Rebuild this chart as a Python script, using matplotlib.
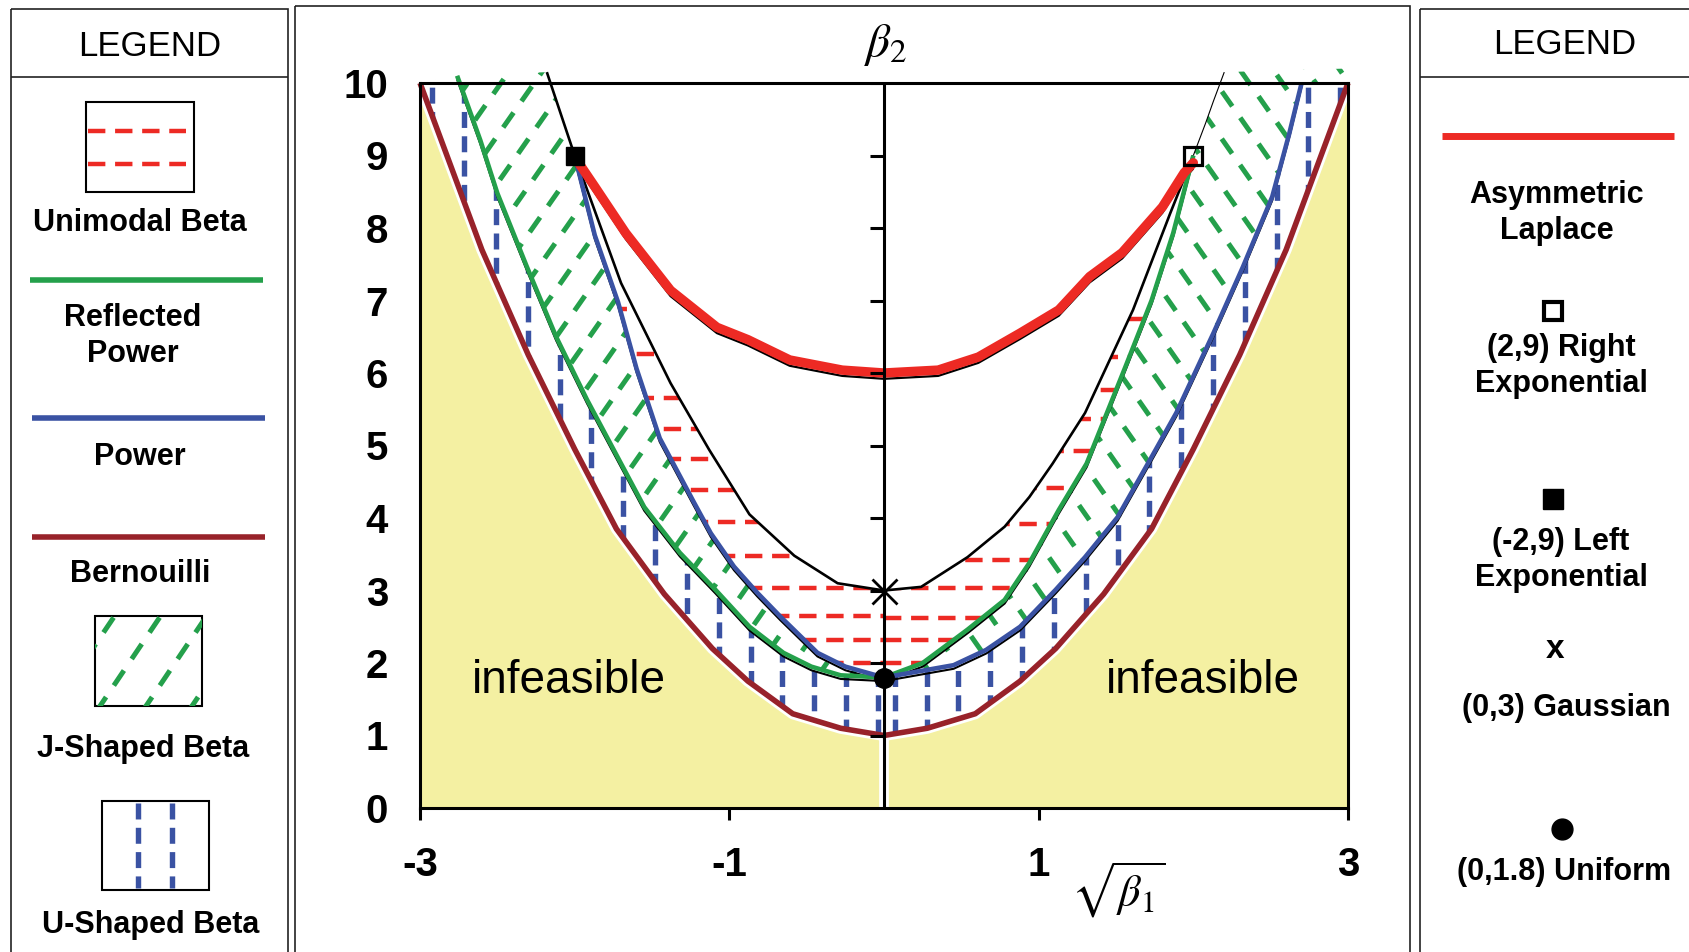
import numpy as np
import matplotlib
matplotlib.use("Agg")
import matplotlib.pyplot as plt
from matplotlib.patches import Polygon, Rectangle
from matplotlib.collections import LineCollection

plt.rcParams["font.family"] = ["Liberation Sans", "DejaVu Sans"]
plt.rcParams["mathtext.fontset"] = "stix"
plt.rcParams["axes.unicode_minus"] = False
plt.rcParams["lines.scale_dashes"] = False
plt.rcParams["lines.solid_capstyle"] = "butt"

# === DATA ===
# Bernoulli lower bound
bern_x = [-3.0, -2.6, -2.3, -2.0, -1.73, -1.42, -1.11, -0.88, -0.59, -0.28, 0.0,
          0.28, 0.59, 0.88, 1.11, 1.42, 1.73, 2.0, 2.3, 2.6, 3.0]
bern_y = [10.0, 7.7, 6.25, 4.95, 3.85, 2.95, 2.2, 1.75, 1.3, 1.1, 1.0,
          1.1, 1.3, 1.75, 2.2, 2.95, 3.85, 4.95, 6.25, 7.7, 10.0]

# Gamma line (black boundary of unimodal beta)
gam_x = [-2.18, -2.0, -1.70, -1.38, -1.13, -0.87, -0.58, -0.30, 0.0,
         0.24, 0.54, 0.78, 0.94, 1.09, 1.30, 1.61, 1.85, 2.0]
gam_y = [10.15, 9.0, 7.24, 5.86, 4.94, 4.05, 3.48, 3.10, 3.0,
         3.05, 3.46, 3.88, 4.29, 4.75, 5.45, 6.87, 8.20, 9.0]
gam_ext_x = [2.0, 2.08, 2.13, 2.2]
gam_ext_y = [9.0, 9.45, 9.75, 10.15]

# Power (blue): left arm to (-2,9), right arm to the top
pow_left_x = [-2.0, -1.87, -1.72, -1.60, -1.45, -1.23, -1.12, -0.97, -0.82, -0.67, -0.43, -0.25, 0.0]
pow_left_y = [9.0, 7.90, 6.98, 6.06, 5.10, 4.22, 3.79, 3.33, 2.97, 2.64, 2.14, 1.95, 1.8]
pow_right_x = [0.0, 0.45, 0.66, 0.88, 1.11, 1.30, 1.51, 1.73, 1.89, 2.13, 2.32, 2.51, 2.62, 2.70]
pow_right_y = [1.8, 1.97, 2.18, 2.50, 3.01, 3.46, 4.01, 4.84, 5.45, 6.55, 7.46, 8.43, 9.3, 10.0]

# Reflected power (green): left arm to the top, right arm to (2,9)
ref_left_x = [-2.76, -2.61, -2.50, -2.31, -2.12, -1.92, -1.77, -1.55, -1.32, -1.09, -0.87, -0.65, -0.47, -0.28, 0.0]
ref_left_y = [10.1, 9.21, 8.48, 7.47, 6.50, 5.63, 5.03, 4.15, 3.52, 3.01, 2.50, 2.14, 1.95, 1.83, 1.8]
ref_right_x = [0.0, 0.25, 0.54, 0.78, 0.94, 1.13, 1.31, 1.56, 1.73, 1.87, 2.0]
ref_right_y = [1.8, 2.0, 2.46, 2.87, 3.38, 4.11, 4.75, 6.08, 7.0, 7.93, 9.0]

# Asymmetric Laplace (red)
lap_x = [-2.0, -1.87, -1.67, -1.38, -1.08, -0.88, -0.61, -0.27, 0.0,
         0.35, 0.61, 0.88, 1.13, 1.33, 1.54, 1.80, 1.94, 2.0]
lap_y = [8.98, 8.57, 7.93, 7.14, 6.63, 6.46, 6.18, 6.04, 6.0,
         6.04, 6.22, 6.55, 6.87, 7.33, 7.66, 8.29, 8.76, 8.9]

# Unimodal beta hatch levels (left / right of centre)
uni_left = [2.0, 2.32, 2.65, 3.03, 3.48, 3.94, 4.38, 4.82, 5.23, 5.66, 6.26, 6.88]
uni_right = [2.0, 2.32, 2.62, 3.03, 3.42, 3.92, 4.41, 4.92, 5.36, 5.76, 6.22, 6.74]

# Special points
pt_left_exp = (-2, 9)
pt_right_exp = (2, 9)
pt_gauss = (0, 3)
pt_unif = (0, 1.8)

x_ticks = [-3, -1, 1, 3]
y_ticks = list(range(0, 11))

# === COLOURS / HATCH STYLE ===
RED = "#ED2A24"
GREEN = "#24A04B"
BLUE = "#3A52A3"
DKRED = "#98222A"
YELLOW = "#F4F0A2"
RED_DASH = (0, (12.5, 7))
GREEN_DASH = (0, (13, 10))
BLUE_DASH = (0, (11.5, 6))

fig = plt.figure(figsize=(16.9, 9.52), dpi=100)

# overlay in pixel coordinates for boxes / legends
ov = fig.add_axes([0, 0, 1, 1], zorder=0)
ov.set_xlim(0, 1690)
ov.set_ylim(952, 0)
ov.axis("off")

ax = fig.add_axes([420 / 1690, (952 - 808) / 952, 928 / 1690, 725 / 952], zorder=1)

# === INFEASIBLE AREA ===
ax.fill_between(bern_x, 0, bern_y, color=YELLOW, lw=0, zorder=1)
ax.plot(bern_x, bern_y, color="white", lw=8, zorder=1.2)
ax.axvline(0, color="white", lw=7, zorder=1.2)


def clip_poly(xs, ys):
    p = Polygon(np.column_stack([xs, ys]), closed=True, transform=ax.transData,
                facecolor="none", edgecolor="none")
    ax.add_patch(p)
    return p


# unimodal region: between power-left / reflected-right and gamma line
uni_px = pow_left_x + ref_right_x[1:] + gam_x[1:][::-1][1:]
uni_py = pow_left_y + ref_right_y[1:] + gam_y[1:][::-1][1:]
uni_poly = clip_poly(uni_px, uni_py)
segs = [[(-3, v), (0, v)] for v in uni_left] + [[(0, v), (3, v)] for v in uni_right]
lc = LineCollection(segs, colors=RED, linewidths=3.2, linestyles=[RED_DASH], zorder=2)
lc.set_clip_path(uni_poly)
ax.add_collection(lc)

# J-shaped region (left and right)
jl_poly = clip_poly(ref_left_x + pow_left_x[::-1] + [gam_x[0]],
                    ref_left_y + pow_left_y[::-1] + [gam_y[0]])
jr_poly = clip_poly(ref_right_x + gam_ext_x[1:] + [3.0, 3.0] + pow_right_x[::-1],
                    ref_right_y + gam_ext_y[1:] + [10.2, 10.0] + pow_right_y[::-1])
s = 3.05
segs_l = [[(x0, 0), (x0 + 11 / s, 11)] for x0 in np.arange(-6.4, 0.0, 0.215)]
segs_r = [[(x0, 0), (x0 - 11 / s, 11)] for x0 in np.arange(0.05, 6.6, 0.215)]
for sg, pp in ((segs_l, jl_poly), (segs_r, jr_poly)):
    lc = LineCollection(sg, colors=GREEN, linewidths=3.6, linestyles=[GREEN_DASH], zorder=2)
    lc.set_clip_path(pp)
    ax.add_collection(lc)

# U-shaped region: between Bernoulli and outer curves
u_px = bern_x + [pow_right_x[-1]] + pow_right_x[::-1][1:] + ref_left_x[::-1][1:] + [-3.0]
u_py = bern_y + [pow_right_y[-1]] + pow_right_y[::-1][1:] + ref_left_y[::-1][1:] + [10.0]
u_poly = clip_poly(u_px, u_py)
xs_u = list(np.arange(-2.92, -0.02, 0.2057)) + list(np.arange(0.07, 3.0, 0.2057))
lc = LineCollection([[(xv, 0), (xv, 10.3)] for xv in xs_u], colors=BLUE, linewidths=3.9,
                    linestyles=[BLUE_DASH], zorder=2)
lc.set_clip_path(u_poly)
ax.add_collection(lc)

# === CURVES ===
sh = 0.05
for cx, cy in ((pow_left_x, pow_left_y), (pow_right_x, pow_right_y),
               (ref_left_x, ref_left_y), (ref_right_x, ref_right_y)):
    ax.plot(cx, np.array(cy) - sh, color="black", lw=1.5, zorder=2.6, clip_on=False)
ax.plot(lap_x, np.array(lap_y) - 0.08, color="black", lw=1.6, zorder=2.6)
ax.plot(gam_x, gam_y, color="black", lw=1.9, zorder=2.7, clip_on=False)
ax.plot(gam_ext_x, gam_ext_y, color="black", lw=0.8, zorder=2.7, clip_on=False)

ax.plot(bern_x, bern_y, color=DKRED, lw=4.0, zorder=3, clip_on=False)
ax.plot(ref_left_x, ref_left_y, color=GREEN, lw=3.3, zorder=3, clip_on=False)
ax.plot(ref_right_x, ref_right_y, color=GREEN, lw=3.3, zorder=3)
ax.plot(pow_left_x, pow_left_y, color=BLUE, lw=3.3, zorder=3)
ax.plot(pow_right_x, pow_right_y, color=BLUE, lw=3.3, zorder=3)
ax.plot(lap_x, lap_y, color=RED, lw=6.8, zorder=3.2, solid_capstyle="round")

# centre axis and its ticks
ax.axvline(0, color="black", lw=2.2, zorder=3.5)
ax.hlines(y_ticks[1:], -0.09, 0, color="black", lw=2.2, zorder=3.5)

# markers
ax.plot(*pt_left_exp, marker="s", ms=13, color="black", zorder=4)
ax.plot(*pt_right_exp, marker="s", ms=13, mfc="none", mec="black", mew=2.3, zorder=4)
ax.plot(*pt_gauss, marker="x", ms=18, mec="black", mew=2.0, zorder=4)
ax.plot(*pt_unif, marker="o", ms=14, color="black", zorder=4)

# text in plot
ax.text(-2.04, 1.75, "infeasible", fontsize=33, ha="center", va="center", zorder=5)
ax.text(2.06, 1.75, "infeasible", fontsize=33, ha="center", va="center", zorder=5)

ax.set_xlim(-3, 3)
ax.set_ylim(0, 10)
ax.set_xticks(x_ticks)
ax.set_xticklabels([str(v) for v in x_ticks], fontsize=29, fontweight="bold")
ax.set_yticks(y_ticks)
ax.set_yticklabels([str(v) for v in y_ticks], fontsize=29, fontweight="bold")
ax.tick_params(axis="x", direction="out", length=8.6, width=2.2, pad=19)
ax.tick_params(axis="y", length=0, pad=23)
for sp in ax.spines.values():
    sp.set_linewidth(2.2)
    sp.set_zorder(3.5)

# === PANEL BOXES ===
for (bx, by, bw, bh) in ((11, 9, 277, 1000), (295, 6, 1115, 1000), (1420, 9, 300, 1000)):
    ov.add_patch(Rectangle((bx, by), bw, bh, fill=False, ec="#222222", lw=1.2))
ov.plot([11, 288], [77, 77], color="#222222", lw=1.2)
ov.plot([1420, 1690], [77, 77], color="#222222", lw=1.2)

ov.text(886, 45, r"$\beta_2$", fontsize=34, ha="center", va="center")
ov.text(1118, 890, r"$\sqrt{\beta_1}$", fontsize=32, ha="center", va="center")

# === LEFT LEGEND ===
bold = dict(fontsize=22, fontweight="bold", ha="center", va="center", linespacing=1.3)
ov.text(150, 46, "LEGEND", fontsize=25, ha="center", va="center")

r1 = Rectangle((86, 102), 108, 90, fill=False, ec="black", lw=1.5)
ov.add_patch(r1)
for yy in (131, 164):
    ov.plot([88, 186], [yy, yy], color=RED, lw=3.2, ls=RED_DASH)
ov.text(140, 223, "Unimodal Beta", **bold)

ov.plot([30, 263], [280, 280], color=GREEN, lw=4)
ov.text(133, 336, "Reflected\nPower", **bold)
ov.plot([32, 265], [418, 418], color=BLUE, lw=4)
ov.text(140, 457, "Power", **bold)
ov.plot([32, 265], [537, 537], color=DKRED, lw=4)
ov.text(140, 574, "Bernouilli", **bold)

r2 = Rectangle((95, 616), 107, 90, fill=False, ec="black", lw=1.5)
ov.add_patch(r2)
for x0 in (50, 96, 142, 188, 234):
    ln, = ov.plot([x0, x0 + 70], [712, 608], color=GREEN, lw=3.6, ls=GREEN_DASH)
    ln.set_clip_path(r2)
ov.text(143, 749, "J-Shaped Beta", **bold)

r3 = Rectangle((102, 801), 107, 89, fill=False, ec="black", lw=1.5)
ov.add_patch(r3)
for xx in (138, 172):
    ov.plot([xx, xx], [803, 888], color=BLUE, lw=3.9, ls=BLUE_DASH)
ov.text(151, 925, "U-Shaped Beta", **bold)

# === RIGHT LEGEND ===
ov.text(1565, 45, "LEGEND", fontsize=25, ha="center", va="center")
ov.plot([1442, 1674], [136, 136], color=RED, lw=5)
ov.text(1557, 213, "Asymmetric\nLaplace", **bold)
ov.plot(1553, 311, marker="s", ms=13, mfc="none", mec="black", mew=3)
ov.text(1561, 366, "(2,9) Right\nExponential", **bold)
ov.plot(1553, 499, marker="s", ms=15, color="black")
ov.text(1561, 560, "(-2,9) Left\nExponential", **bold)
ov.text(1555, 650, "x", fontsize=24, fontweight="bold", ha="center", va="center")
ov.text(1566, 708, "(0,3) Gaussian", **bold)
ov.plot(1562, 829, marker="o", ms=15, color="black")
ov.text(1564, 872, "(0,1.8) Uniform", **bold)

fig.savefig("out.png", dpi=100)
